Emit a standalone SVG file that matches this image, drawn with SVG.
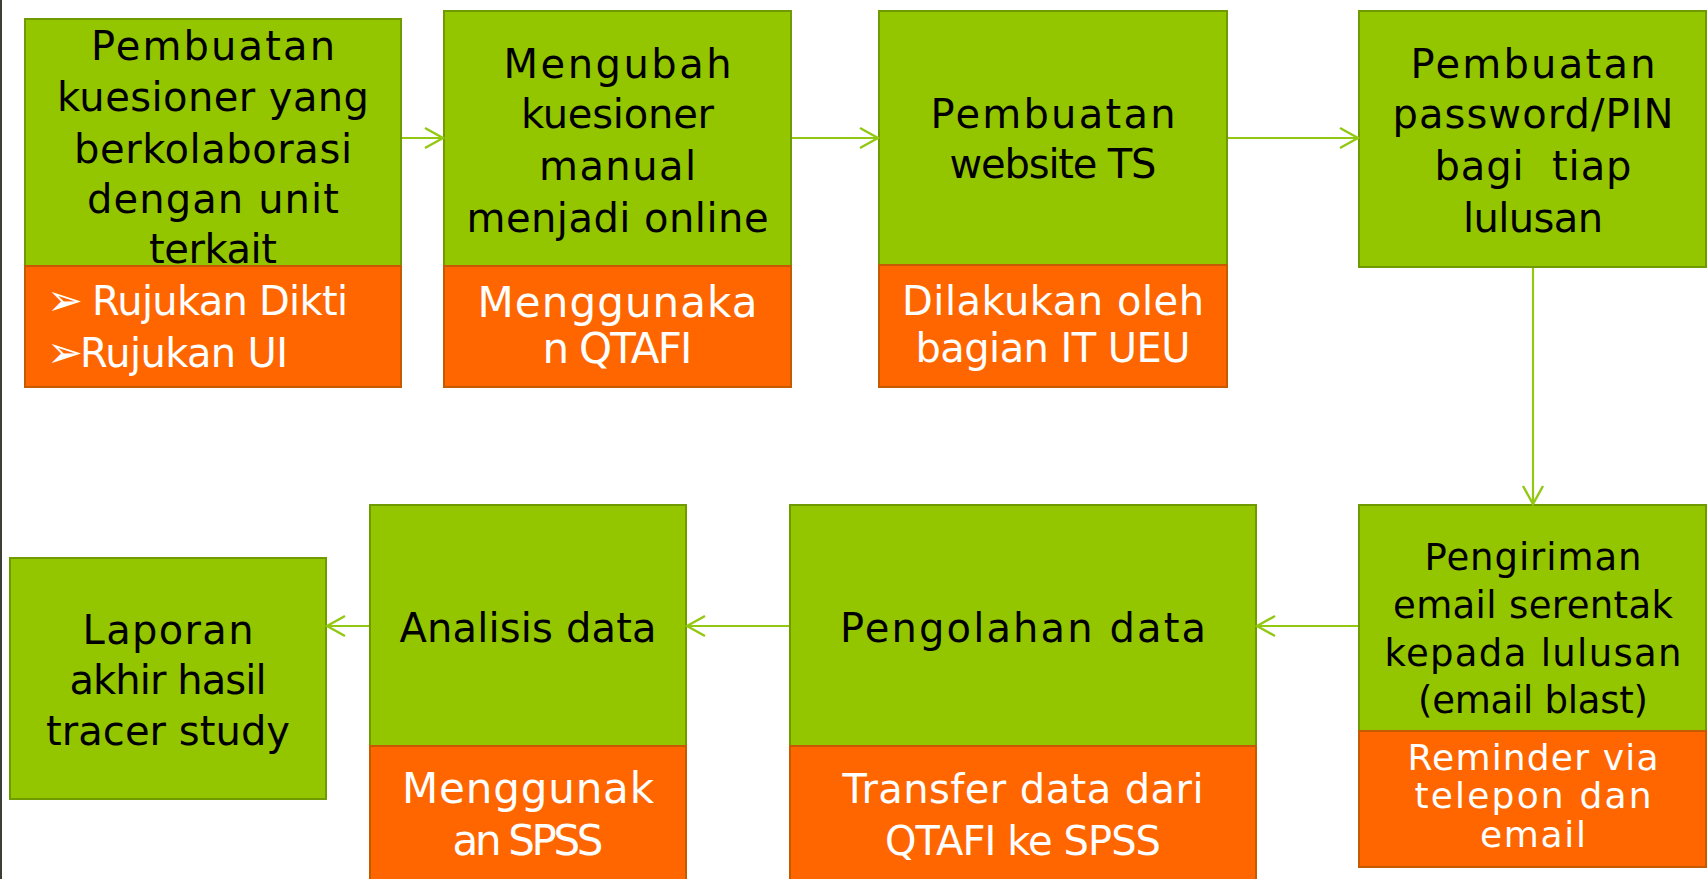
<svg xmlns="http://www.w3.org/2000/svg" width="1708" height="879" viewBox="0 0 1708 879">
<style>
.g{fill:#94C600;stroke:#6F9A00;stroke-width:2}
.o{fill:#FF6600;stroke:#C55A00;stroke-width:2}
.t{font-family:"DejaVu Sans",sans-serif;fill:#000;text-anchor:middle;font-size:40px}
.s{font-size:37px}
.w{fill:#fff;font-size:40px}
.wl{fill:#fff;font-size:42px}
.ws{fill:#fff;font-size:36px}
.l{text-anchor:start}
.b{font-size:43px}
.c{stroke:#92C811;stroke-width:2.2;fill:none}
</style>
<defs>
<marker id="ah" viewBox="-20 -12 22 24" markerWidth="22" markerHeight="24" refX="0" refY="0" markerUnits="userSpaceOnUse" orient="auto">
<path d="M -18 -10 L 0 0 L -18 10" fill="none" stroke="#92C811" stroke-width="2.4"/>
</marker>
</defs>
<rect x="0" y="0" width="1708" height="879" fill="#fff"/>
<rect x="0" y="0" width="2" height="879" fill="#3C3F36"/>

<g id="node1">
<rect class="g" x="25" y="19" width="376" height="247"/>
<text class="t" x="213" y="60" textLength="244">Pembuatan</text>
<text class="t" x="213" y="111" textLength="312">kuesioner yang</text>
<text class="t" x="213" y="163" textLength="278">berkolaborasi</text>
<text class="t" x="213" y="213" textLength="252">dengan unit</text>
<text class="t" x="213" y="263" textLength="128">terkait</text>
<rect class="o" x="25" y="266" width="376" height="121"/>
<text class="t w l" x="47" y="315" font-size="38"><tspan class="b">➢</tspan><tspan x="92" textLength="256">Rujukan Dikti</tspan></text>
<text class="t w l" x="47" y="367" font-size="38"><tspan class="b">➢</tspan><tspan x="80" textLength="208">Rujukan UI</tspan></text>
</g>

<g id="node2">
<rect class="g" x="444" y="11" width="347" height="255"/>
<text class="t" x="617.5" y="78" textLength="228">Mengubah</text>
<text class="t" x="617.5" y="128" textLength="193">kuesioner</text>
<text class="t" x="617.5" y="180" textLength="157">manual</text>
<text class="t" x="617.5" y="232" textLength="302">menjadi online</text>
<rect class="o" x="444" y="266" width="347" height="121"/>
<text class="t wl" x="617.5" y="317" textLength="280">Menggunaka</text>
<text class="t wl" x="617.5" y="363" textLength="150">n QTAFI</text>
</g>

<g id="node3">
<rect class="g" x="879" y="11" width="348" height="254"/>
<text class="t" x="1053" y="128" textLength="245">Pembuatan</text>
<text class="t" x="1053" y="178" textLength="207">website TS</text>
<rect class="o" x="879" y="265" width="348" height="122"/>
<text class="t w" x="1053" y="315" textLength="302">Dilakukan oleh</text>
<text class="t w" x="1053" y="362" textLength="275">bagian IT UEU</text>
</g>

<g id="node4">
<rect class="g" x="1359" y="11" width="347" height="256"/>
<text class="t" x="1533" y="78" textLength="245">Pembuatan</text>
<text class="t" x="1533" y="128" textLength="281">password/PIN</text>
<text class="t" x="1533" y="180" textLength="197">bagi&#160; tiap</text>
<text class="t" x="1533" y="232" textLength="140">lulusan</text>
</g>

<g id="node5">
<rect class="g" x="1359" y="505" width="347" height="226"/>
<text class="t s" x="1533" y="570" textLength="217">Pengiriman</text>
<text class="t s" x="1533" y="618" textLength="280">email serentak</text>
<text class="t s" x="1533" y="666" textLength="297">kepada lulusan</text>
<text class="t s" x="1533" y="713" textLength="230">(email blast)</text>
<rect class="o" x="1359" y="731" width="347" height="136"/>
<text class="t ws" x="1533" y="770" textLength="251">Reminder via</text>
<text class="t ws" x="1533" y="808" textLength="237">telepon dan</text>
<text class="t ws" x="1533" y="847" textLength="106">email</text>
</g>

<g id="node6">
<rect class="g" x="790" y="505" width="466" height="241"/>
<text class="t" x="1023" y="642" font-size="41" textLength="366">Pengolahan data</text>
<rect class="o" x="790" y="746" width="466" height="140"/>
<text class="t w" x="1023" y="803" textLength="361">Transfer data dari</text>
<text class="t w" x="1023" y="855" textLength="276">QTAFI ke SPSS</text>
</g>

<g id="node7">
<rect class="g" x="370" y="505" width="316" height="241"/>
<text class="t" x="528" y="642" textLength="257">Analisis data</text>
<rect class="o" x="370" y="746" width="316" height="140"/>
<text class="t wl" x="528" y="803" textLength="252">Menggunak</text>
<text class="t wl" x="528" y="855" textLength="151">an SPSS</text>
</g>

<g id="node8">
<rect class="g" x="10" y="558" width="316" height="241"/>
<text class="t" x="168" y="644" textLength="171">Laporan</text>
<text class="t" x="168" y="694" textLength="197">akhir hasil</text>
<text class="t" x="168" y="745" textLength="244">tracer study</text>
</g>

<g id="connectors">
<line class="c" x1="402" y1="138" x2="443" y2="138" marker-end="url(#ah)"/>
<line class="c" x1="792" y1="138" x2="878" y2="138" marker-end="url(#ah)"/>
<line class="c" x1="1228" y1="138" x2="1358" y2="138" marker-end="url(#ah)"/>
<line class="c" x1="1533" y1="268" x2="1533" y2="504" marker-end="url(#ah)"/>
<line class="c" x1="1358" y1="626" x2="1257" y2="626" marker-end="url(#ah)"/>
<line class="c" x1="789" y1="626" x2="687" y2="626" marker-end="url(#ah)"/>
<line class="c" x1="369" y1="626" x2="327" y2="626" marker-end="url(#ah)"/>
</g>
</svg>
